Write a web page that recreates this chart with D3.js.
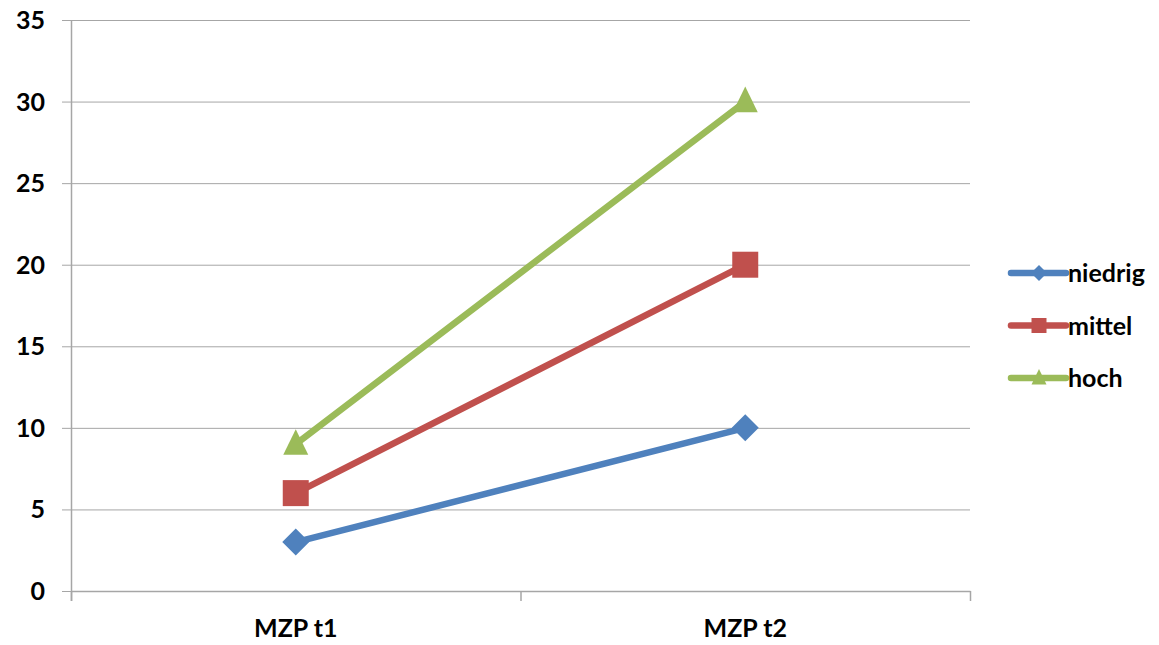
<!DOCTYPE html>
<html>
<head>
<meta charset="utf-8">
<script src="https://cdn.jsdelivr.net/npm/d3@7"></script>
<style>
  html, body { margin: 0; padding: 0; background: #fff; }
  svg { display: block; }
  text { font-family: Lato, "Open Sans", sans-serif; font-weight: bold; fill: #000; }
</style>
</head>
<body>
<svg id="chart" width="1159" height="645"></svg>
<script>
// Zeitpunkte und Werte je Gruppe
const categories = ["MZP t1", "MZP t2"];
const seriesNames = ["niedrig", "mittel", "hoch"];
const niedrig = [3, 10];
const mittel = [6, 20];
const hoch = [9, 30];
const yTicks = [0, 5, 10, 15, 20, 25, 30, 35];

const seriesColors = ["#4F81BD", "#C0504D", "#9BBB59"];
const seriesValues = [niedrig, mittel, hoch];

// Marker outlines scaled by half-size r
const shapes = [
  r => `M0,${-r}L${r},0L0,${r}L${-r},0Z`,                         // diamond
  r => `M${-r},${-r}H${r}V${r}H${-r}Z`,                            // square
  r => `M0,${-r * 1.2}L${r},${r * 0.85}H${-r}Z`                    // triangle
];
const markerR = [13.5, 13, 12.5];
const legendR = [8, 7.5, 7.5];

const svg = d3.select("#chart");
const plot = { left: 71, right: 970, top: 20, bottom: 591 };
const fontSize = 25;

const x = d3.scaleBand().domain(categories).range([plot.left, plot.right]);
const y = d3.scaleLinear().domain([0, 35]).range([plot.bottom, plot.top]);

// Horizontal gridlines with short outer ticks
svg.append("g").selectAll("line").data(yTicks).join("line")
  .attr("x1", plot.left - 9).attr("x2", plot.right)
  .attr("y1", d => y(d) + 0.5).attr("y2", d => y(d) + 0.5)
  .attr("stroke", "#a6a6a6").attr("stroke-width", 1);

// Y axis line
svg.append("line")
  .attr("x1", plot.left + 0.5).attr("x2", plot.left + 0.5)
  .attr("y1", plot.top).attr("y2", plot.bottom + 10)
  .attr("stroke", "#a6a6a6").attr("stroke-width", 1.5);

// Y tick labels
svg.append("g").selectAll("text").data(yTicks).join("text")
  .attr("x", 45).attr("y", d => y(d))
  .attr("dy", "0.36em")
  .attr("text-anchor", "end")
  .attr("font-size", fontSize)
  .text(d => d);

// X axis line, category boundary ticks and labels
svg.append("line")
  .attr("x1", plot.left).attr("x2", plot.right + 0.5)
  .attr("y1", plot.bottom + 0.5).attr("y2", plot.bottom + 0.5)
  .attr("stroke", "#a6a6a6").attr("stroke-width", 1.5);

const bounds = [plot.left, ...categories.map(c => x(c) + x.bandwidth())];
svg.append("g").selectAll("line").data(bounds).join("line")
  .attr("x1", d => d + 0.5).attr("x2", d => d + 0.5)
  .attr("y1", plot.bottom).attr("y2", plot.bottom + 10)
  .attr("stroke", "#a6a6a6").attr("stroke-width", 1.5);

svg.append("g").selectAll("text").data(categories).join("text")
  .attr("x", d => x(d) + x.bandwidth() / 2)
  .attr("y", 628)
  .attr("dy", "0.36em")
  .attr("text-anchor", "middle")
  .attr("font-size", fontSize)
  .text(d => d);

// Series lines and markers
const cx = c => x(c) + x.bandwidth() / 2;
const line = d3.line()
  .x((d, i) => cx(categories[i]))
  .y(d => y(d));

seriesValues.forEach((vals, s) => {
  const g = svg.append("g");
  g.append("path")
    .attr("d", line(vals))
    .attr("fill", "none")
    .attr("stroke", seriesColors[s])
    .attr("stroke-width", 6.5)
    .attr("stroke-linecap", "round");
  g.selectAll("path.marker").data(vals).join("path")
    .attr("class", "marker")
    .attr("transform", (d, i) => `translate(${cx(categories[i])},${y(d)})`)
    .attr("d", shapes[s](markerR[s]))
    .attr("fill", seriesColors[s]);
});

// Legend
const legend = svg.append("g").attr("transform", "translate(1008,273)");
const legendRow = 52.5;
seriesNames.forEach((name, s) => {
  const row = legend.append("g").attr("transform", `translate(0,${s * legendRow})`);
  row.append("line")
    .attr("x1", 3).attr("x2", 58).attr("y1", 0).attr("y2", 0)
    .attr("stroke", seriesColors[s]).attr("stroke-width", 6.5)
    .attr("stroke-linecap", "round");
  row.append("path")
    .attr("transform", "translate(31,0)")
    .attr("d", shapes[s](legendR[s]))
    .attr("fill", seriesColors[s]);
  row.append("text")
    .attr("x", 60).attr("y", 0).attr("dy", "0.36em")
    .attr("font-size", fontSize)
    .text(name);
});
</script>
</body>
</html>
